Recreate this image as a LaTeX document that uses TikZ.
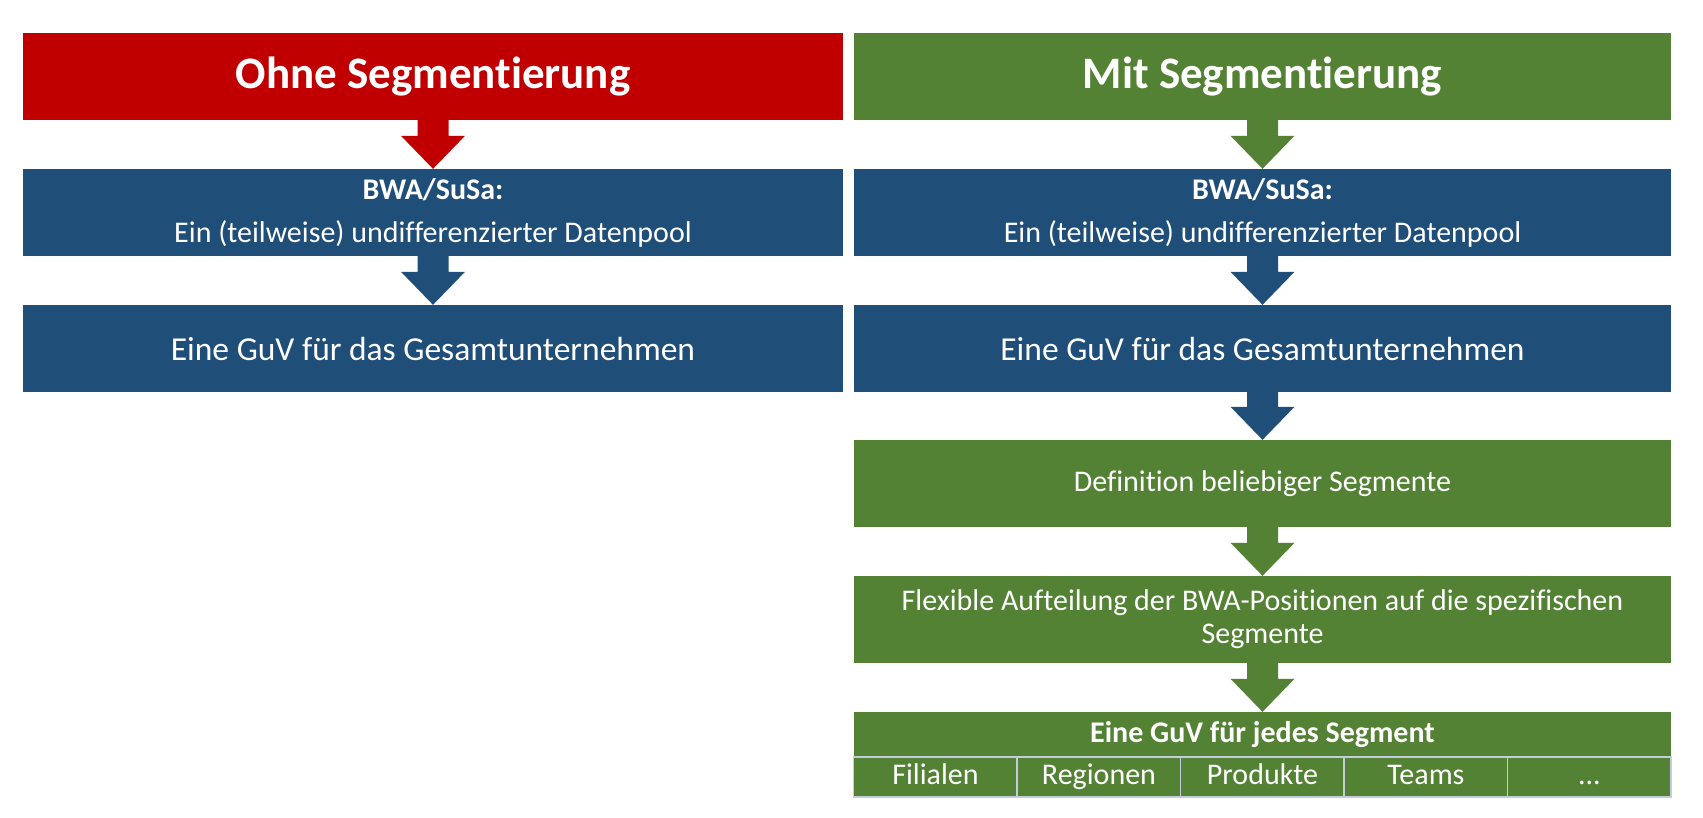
\documentclass[tikz,border=0pt]{standalone}
\usepackage{fontspec}
\setmainfont[Ligatures=NoCommon]{Carlito}
\usetikzlibrary{calc}
\definecolor{cred}{HTML}{C00000}
\definecolor{cgreen}{HTML}{548235}
\definecolor{cblue}{HTML}{1F4E79}
\definecolor{cgrid}{HTML}{C3CCDA}
\tikzset{
  box/.style={rectangle, inner sep=0pt, text=white, align=center, minimum height=87pt},
  lbox/.style={box, minimum width=820pt},
  rbox/.style={box, minimum width=817pt},
  cell/.style={rectangle, inner sep=0pt, fill=cgreen, draw=cgrid, line width=1.5pt, text=white, minimum width=163.5pt, minimum height=40pt, text height=20pt, text depth=6pt, font=\fontsize{30}{34}\selectfont},
  titlefont/.style={font=\fontsize{45}{50}\selectfont\bfseries},
  bigfont/.style={font=\fontsize{33.5}{38}\selectfont},
  smallfont/.style={font=\fontsize{30}{34}\selectfont},
}
\newcommand{\blockarrow}[3]{%
  \fill[#3] ($(#1.south)+(-15.5,0)$) -- ($(#1.south)+(15.5,0)$) -- ($(#2.north)+(15.5,-33)$) -- ($(#2.north)+(32,-33)$) -- (#2.north) -- ($(#2.north)+(-32,-33)$) -- ($(#2.north)+(-15.5,-33)$) -- cycle;}
\begin{document}
\begin{tikzpicture}[x=1pt,y=-1pt]
\useasboundingbox (0,0) rectangle (1703,817);
% left column
\node[lbox, fill=cred, titlefont] (lt) at (433,76.5) {Ohne Segmentierung};
\node[lbox, fill=cblue, font=\fontsize{30}{43}\selectfont] (lb) at (433,212.5) {\textbf{BWA/SuSa:}\\Ein (teilweise) undifferenzierter Datenpool};
\node[lbox, fill=cblue, bigfont] (lg) at (433,348.5) {Eine GuV für das Gesamtunternehmen};
% right column
\node[rbox, fill=cgreen, titlefont] (rt) at (1262.5,76.5) {Mit Segmentierung};
\node[rbox, fill=cblue, font=\fontsize{30}{43}\selectfont] (rb) at (1262.5,212.5) {\textbf{BWA/SuSa:}\\Ein (teilweise) undifferenzierter Datenpool};
\node[rbox, fill=cblue, bigfont] (rg) at (1262.5,348.5) {Eine GuV für das Gesamtunternehmen};
\node[rbox, fill=cgreen, smallfont] (rd) at (1262.5,483.5) {Definition beliebiger Segmente};
\node[rbox, fill=cgreen, font=\fontsize{30}{33}\selectfont] (rf) at (1262.5,619.5) {Flexible Aufteilung der BWA-Positionen auf die spezifischen\\Segmente};
\node[rbox, fill=cgreen, minimum height=45pt, font=\fontsize{30}{34}\selectfont\bfseries] (rs) at (1262.5,734.5) {Eine GuV für jedes Segment};
\node[cell] (c1) at (935.45,777) {Filialen};
\node[cell] (c2) at (1098.95,777) {Regionen};
\node[cell] (c3) at (1262.45,777) {Produkte};
\node[cell] (c4) at (1425.95,777) {Teams};
\node[cell] (c5) at (1589.45,777) {...};
% arrows
\blockarrow{lt}{lb}{cred}
\blockarrow{lb}{lg}{cblue}
\blockarrow{rt}{rb}{cgreen}
\blockarrow{rb}{rg}{cblue}
\blockarrow{rg}{rd}{cblue}
\blockarrow{rd}{rf}{cgreen}
\blockarrow{rf}{rs}{cgreen}
\end{tikzpicture}
\end{document}
